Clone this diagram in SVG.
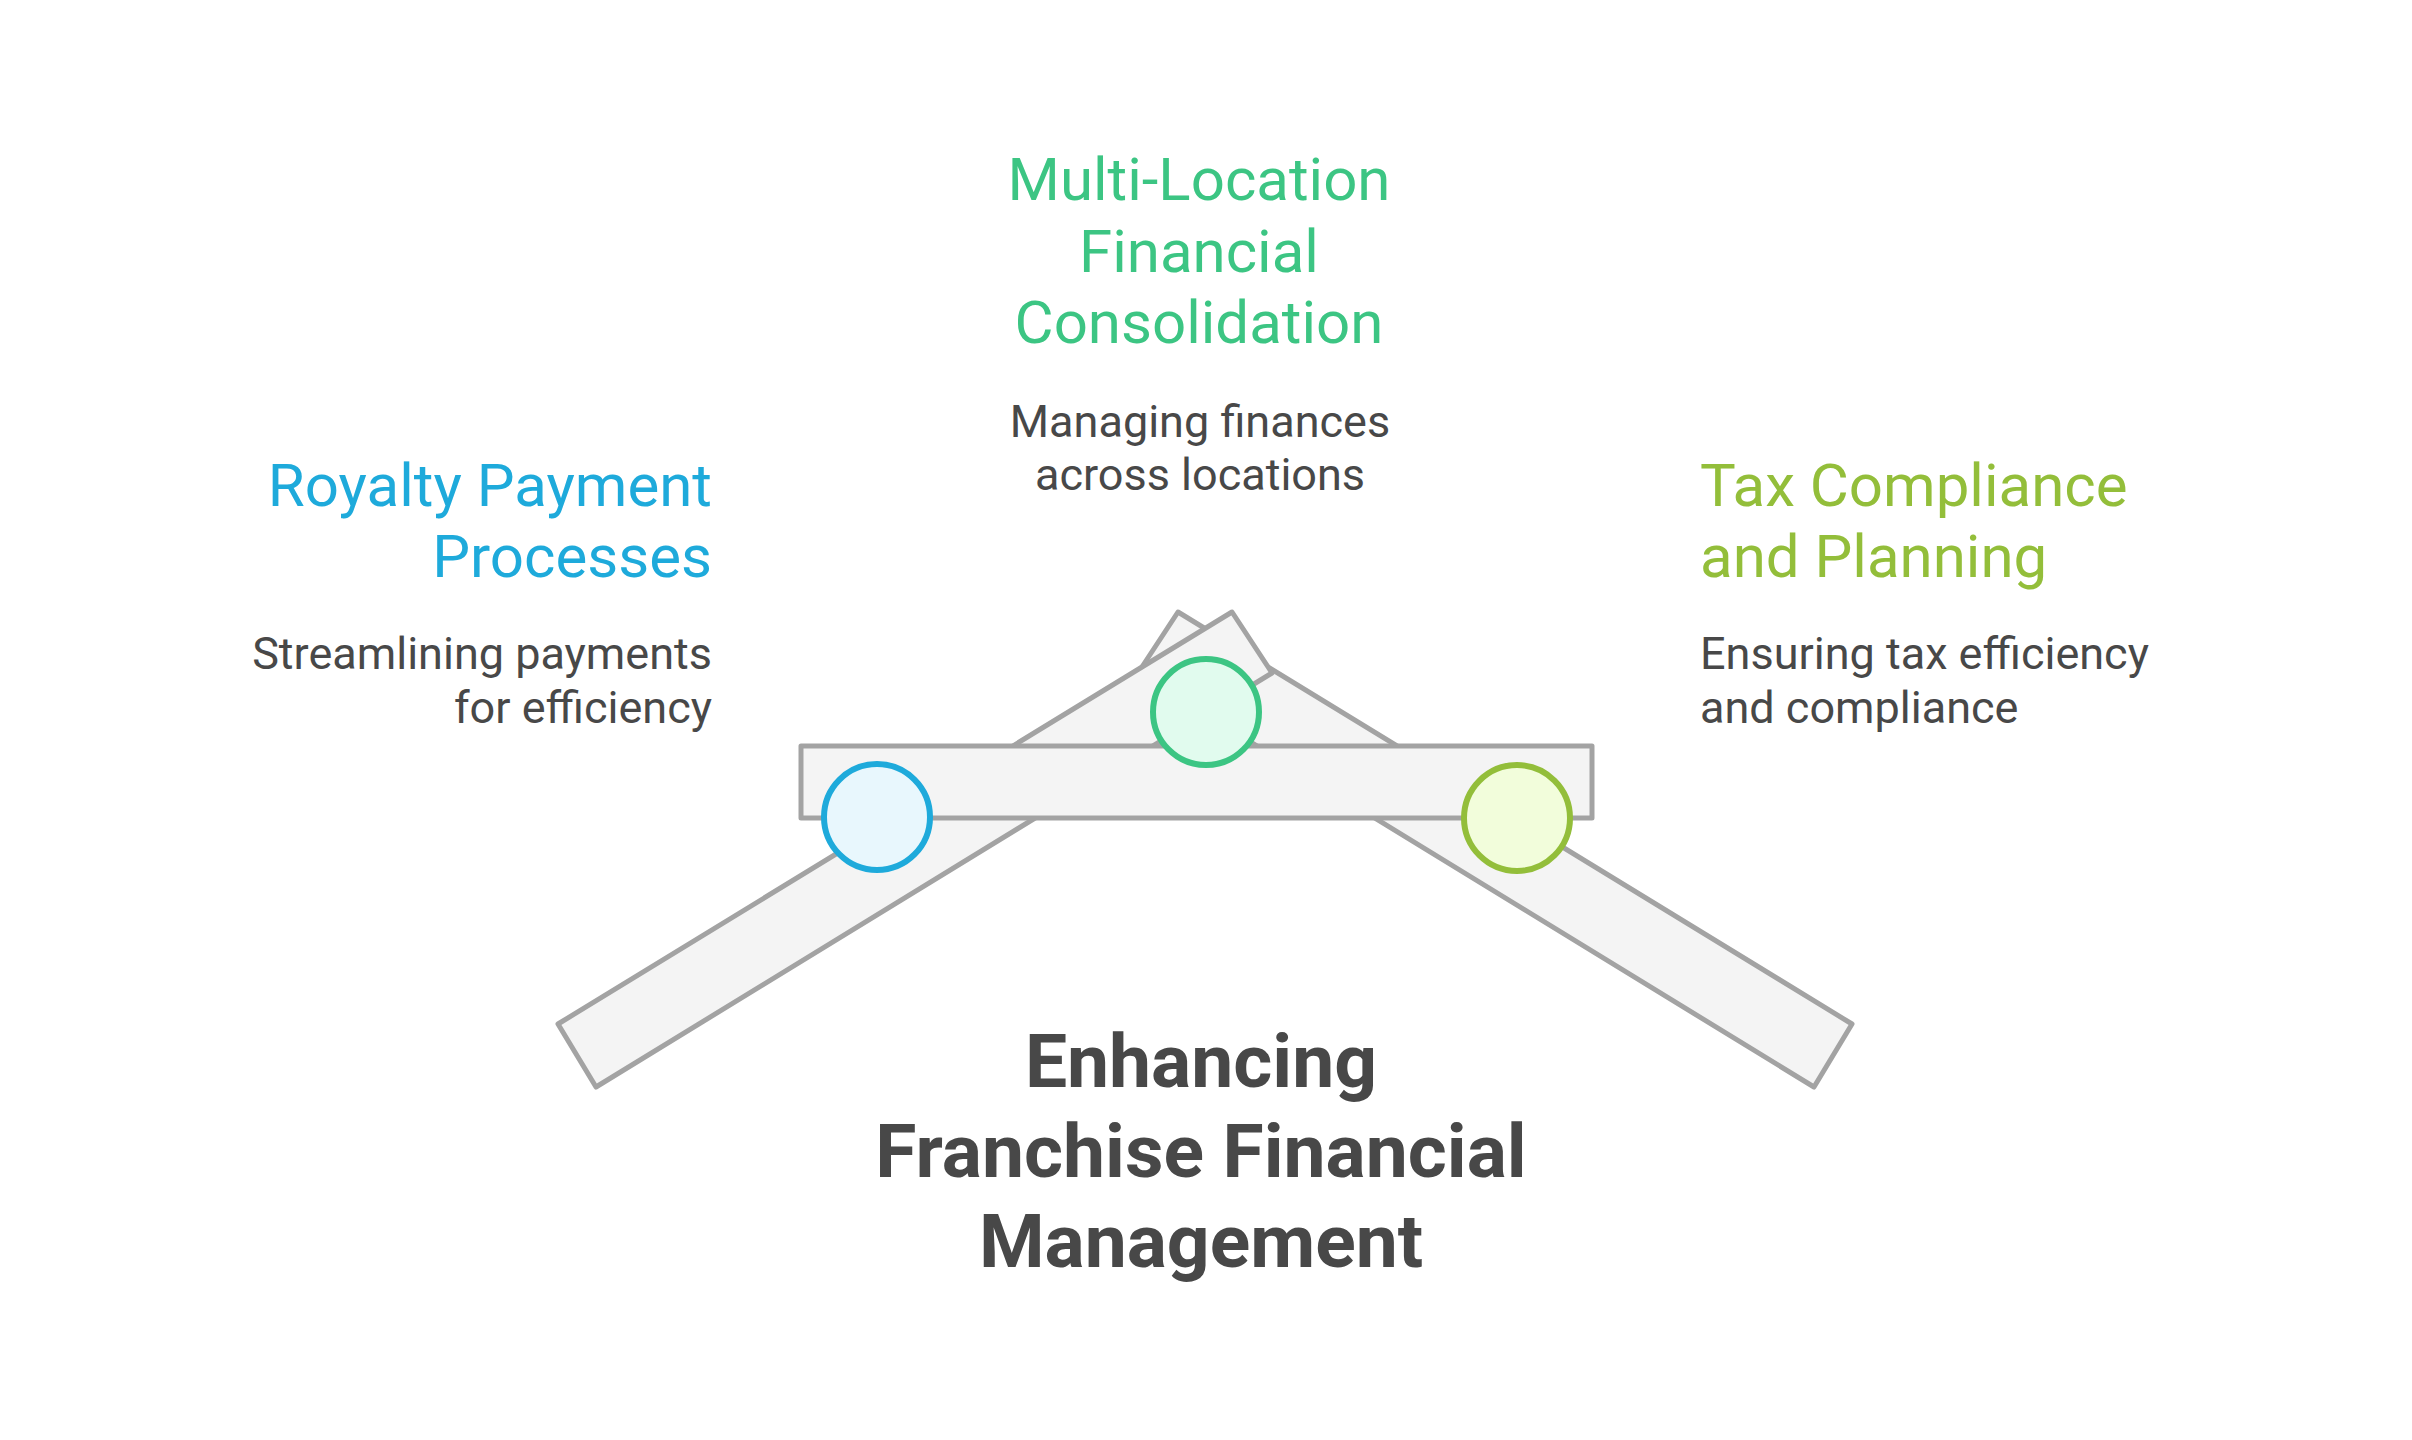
<svg xmlns="http://www.w3.org/2000/svg" width="2412" height="1440" viewBox="0 0 2412 1440">
<style>
.bar{fill:#F4F4F4;stroke:#A3A3A3;stroke-width:5;stroke-linejoin:round}
.t{font-family:Roboto,"Liberation Sans",sans-serif;font-size:60px}
.d{font-family:Roboto,"Liberation Sans",sans-serif;font-size:45px;fill:#484848}
.main{font-family:Roboto,"Liberation Sans",sans-serif;font-size:75px;font-weight:bold;fill:#484848}
.c{stroke-width:6}
</style>
<rect width="2412" height="1440" fill="#FFFFFF"/>
<g id="structure">
<polygon class="bar" points="1852,1024 1814,1087 1138,673 1178,612"/>
<polygon class="bar" points="558,1024 596,1087 1272,673 1232,612"/>
<rect class="bar" x="801" y="746" width="791" height="72"/>
</g>
<g id="node-royalty">
<circle class="c" cx="877" cy="817" r="53" fill="#E8F7FD" stroke="#1EAADB"/>
<text class="t" x="712" y="506" text-anchor="end" fill="#1EAADB">Royalty Payment</text>
<text class="t" x="712" y="577" text-anchor="end" fill="#1EAADB">Processes</text>
<text class="d" x="712" y="669" text-anchor="end">Streamlining payments</text>
<text class="d" x="712" y="723" text-anchor="end">for efficiency</text>
</g>
<g id="node-multi">
<circle class="c" cx="1206" cy="712" r="53" fill="#E1FBEE" stroke="#3CC583"/>
<text class="t" x="1199" y="200" text-anchor="middle" fill="#3CC583">Multi-Location</text>
<text class="t" x="1199" y="272" text-anchor="middle" fill="#3CC583">Financial</text>
<text class="t" x="1199" y="343" text-anchor="middle" fill="#3CC583">Consolidation</text>
<text class="d" x="1200" y="437" text-anchor="middle">Managing finances</text>
<text class="d" x="1200" y="490" text-anchor="middle">across locations</text>
</g>
<g id="node-tax">
<circle class="c" cx="1517" cy="818" r="53" fill="#F2FDDB" stroke="#93BE3A"/>
<text class="t" x="1700" y="506" fill="#93BE3A">Tax Compliance</text>
<text class="t" x="1700" y="577" fill="#93BE3A">and Planning</text>
<text class="d" x="1700" y="669">Ensuring tax efficiency</text>
<text class="d" x="1700" y="723">and compliance</text>
</g>
<g id="node-title">
<text class="main" x="1201" y="1087" text-anchor="middle">Enhancing</text>
<text class="main" x="1201" y="1177" text-anchor="middle">Franchise Financial</text>
<text class="main" x="1201" y="1267" text-anchor="middle">Management</text>
</g>
<g id="connectors"></g>
</svg>
